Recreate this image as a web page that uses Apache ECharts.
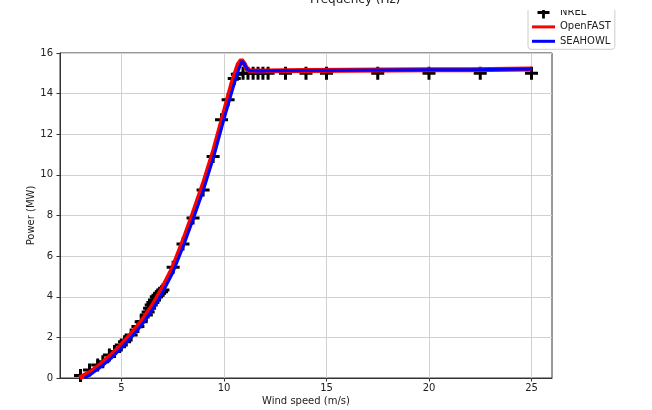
<!DOCTYPE html>
<html>
<head>
<meta charset="utf-8">
<script src="https://cdn.jsdelivr.net/npm/echarts@6/dist/echarts.min.js"></script>
<style>
html, body { margin: 0; padding: 0; background: #fff; }
#main { width: 652px; height: 410px; }
</style>
</head>
<body>
<div id="main"></div>
<script>
// NREL reference power curve
const nrelWind = [3.0, 3.44, 3.84, 4.09, 4.41, 4.66, 4.99, 5.15, 5.47, 5.8, 5.96, 6.21, 6.3, 6.37, 6.45, 6.53, 6.61, 6.7, 6.78, 6.86, 6.95, 7.02,
    7.52, 8.0, 8.49, 8.98, 9.47, 9.88, 10.2, 10.5, 10.65, 10.93, 11.17, 11.42, 11.66, 11.9, 12.15, 13, 14, 15, 17.5, 20, 22.5, 25]
const nrelPower = [0.12, 0.39, 0.64, 0.8, 1.13, 1.3, 1.62, 1.79, 2.12, 2.53, 2.77, 3.1, 3.25, 3.43, 3.6, 3.72, 3.84, 4.0, 4.08, 4.17, 4.25, 4.33,
    5.45, 6.6, 7.88, 9.26, 10.9, 12.72, 13.7, 14.75, 14.95, 15.0, 15.0, 15.0, 15.0, 15.0, 15.0, 15.0, 15.0, 15.0, 15.0, 15.0, 15.0, 15.0]

// OpenFAST
const ofWind = [2.95, 3.5, 4.0, 4.5, 5.0, 5.5, 6.0, 6.5, 7.0, 7.5, 8.0, 8.5, 9.0, 9.5, 10.0, 10.4, 10.7, 10.85, 10.92, 11.0, 11.1, 11.25, 11.5, 12, 14, 16, 18, 20, 22, 24, 25]
const ofPower = [0.0, 0.3, 0.68, 1.12, 1.63, 2.2, 2.82, 3.55, 4.42, 5.42, 6.72, 8.12, 9.58, 11.2, 13.05, 14.55, 15.45, 15.65, 15.6, 15.45, 15.22, 15.13, 15.12, 15.12, 15.14, 15.15, 15.16, 15.17, 15.18, 15.2, 15.21]

// SEAHOWL
const shWind = [3.2, 3.5, 4.0, 4.5, 5.0, 5.5, 6.0, 6.5, 7.0, 7.5, 8.0, 8.5, 9.0, 9.5, 10.0, 10.4, 10.7, 10.88, 10.95, 11.02, 11.12, 11.25, 11.5, 12, 14, 16, 18, 20, 22, 24, 25]
const shPower = [0.0, 0.18, 0.55, 0.98, 1.48, 2.03, 2.63, 3.35, 4.2, 5.18, 6.45, 7.83, 9.27, 10.9, 12.75, 14.15, 15.15, 15.6, 15.58, 15.42, 15.2, 15.13, 15.12, 15.12, 15.14, 15.15, 15.16, 15.17, 15.18, 15.2, 15.21]

const xTicks = [5, 10, 15, 20, 25]

const plusIcon = 'path://M5,0H8V5H13V8H8V13H5V8H0V5H5Z'
const barIcon = 'path://M0,0H23V3H0Z'
const font = 'DejaVu Sans'

function pairs(xs, ys){
    return xs.map((x, i) => [x, ys[i]])
}

const chart = echarts.init(document.getElementById('main'))
chart.setOption({
    animation: false,
    grid: {
        left: 60,
        right: 100,
        top: 53,
        bottom: 32,
        outerBoundsMode: 'none',
        containLabel: false,
        show: true,
        borderColor: '#333',
        borderWidth: 1
    },
    graphic: [
        {
            type: 'text',
            left: 310,
            top: -6,
            style: {
                text: 'Frequency (Hz)',
                font: '12px "DejaVu Sans"',
                fill: '#222'
            }
        },
        {
            // upper panel hides the top of the legend
            type: 'rect',
            z: 100,
            shape: { x: 520, y: 0, width: 110, height: 10 },
            style: { fill: '#fff' }
        }
    ],
    legend: {
        orient: 'vertical',
        left: 528,
        top: 2.5,
        padding: [4, 4, 2, 4],
        itemWidth: 23,
        itemHeight: 12,
        itemGap: 2.4,
        backgroundColor: '#fff',
        borderColor: '#ccc',
        borderWidth: 1,
        borderRadius: 3,
        textStyle: { fontFamily: font, fontSize: 10, color: '#222', lineHeight: 12 },
        data: [
            { name: 'NREL', icon: plusIcon },
            { name: 'OpenFAST', icon: barIcon },
            { name: 'SEAHOWL', icon: barIcon }
        ]
    },
    xAxis: {
        type: 'value',
        min: 2,
        max: 26,
        name: 'Wind speed (m/s)',
        nameLocation: 'middle',
        nameGap: 18,
        nameMoveOverlap: false,
        nameTextStyle: { fontFamily: font, fontSize: 10, color: '#222' },
        axisLine: { lineStyle: { color: '#333', width: 1 } },
        axisTick: { show: true, length: 3.5, customValues: xTicks, lineStyle: { color: '#333' } },
        axisLabel: { customValues: xTicks, fontFamily: font, fontSize: 10, color: '#222', margin: 5 },
        splitLine: { show: true, lineStyle: { color: '#d0d0d0', width: 1 } }
    },
    yAxis: {
        type: 'value',
        min: 0,
        max: 16,
        interval: 2,
        name: 'Power (MW)',
        nameLocation: 'middle',
        nameGap: 24,
        nameMoveOverlap: false,
        nameTextStyle: { fontFamily: font, fontSize: 10, color: '#222' },
        axisLine: { show: true, lineStyle: { color: '#333', width: 1 } },
        axisTick: { show: true, length: 3.5, lineStyle: { color: '#333' } },
        axisLabel: { fontFamily: font, fontSize: 10, color: '#222', margin: 7 },
        splitLine: { show: true, lineStyle: { color: '#d0d0d0', width: 1 } }
    },
    series: [
        {
            name: 'NREL',
            type: 'scatter',
            z: 2,
            symbol: plusIcon,
            symbolSize: 13,
            itemStyle: { color: '#000', opacity: 1 },
            data: pairs(nrelWind, nrelPower)
        },
        {
            name: 'OpenFAST',
            type: 'line',
            z: 3,
            symbol: 'none',
            itemStyle: { color: '#ff0000' },
            lineStyle: { color: '#ff0000', width: 5 },
            data: pairs(ofWind, ofPower)
        },
        {
            name: 'SEAHOWL',
            type: 'line',
            z: 4,
            symbol: 'none',
            itemStyle: { color: '#0000ff' },
            lineStyle: { color: '#0000ff', width: 3 },
            data: pairs(shWind, shPower)
        }
    ]
})
</script>
</body>
</html>
